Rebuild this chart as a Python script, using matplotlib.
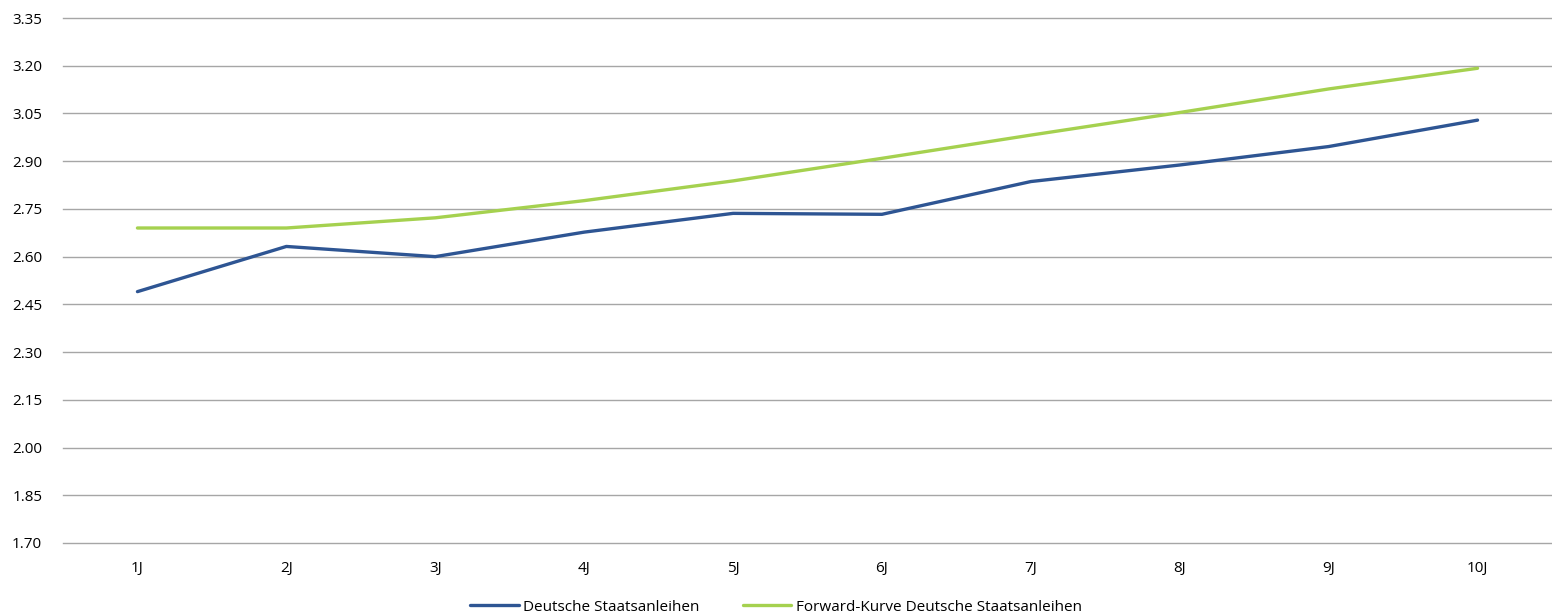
import matplotlib
matplotlib.use("Agg")
import matplotlib.pyplot as plt
import numpy as np

categories = ["1J", "2J", "3J", "4J", "5J", "6J", "7J", "8J", "9J", "10J"]
deutsche = [2.49, 2.632, 2.600, 2.677, 2.736, 2.733, 2.836, 2.888, 2.946, 3.029]
forward = [2.690, 2.690, 2.722, 2.776, 2.838, 2.909, 2.982, 3.053, 3.127, 3.192]
yticks = [1.70, 1.85, 2.00, 2.15, 2.30, 2.45, 2.60, 2.75, 2.90, 3.05, 3.20, 3.35]
series_names = ["Deutsche Staatsanleihen", "Forward-Kurve Deutsche Staatsanleihen"]

plt.rcParams['font.family'] = ['Open Sans', 'DejaVu Sans']

fig = plt.figure(figsize=(15.52, 6.16), dpi=100)
ax = fig.add_axes([63/1552, 1-543/616, 1-63/1552, (543-18)/616])

x = np.arange(len(categories))
ax.plot(x, deutsche, color="#2e5593", lw=2.4, label=series_names[0], solid_capstyle='round')
ax.plot(x, forward, color="#a5d14f", lw=2.4, label=series_names[1], solid_capstyle='round')

ax.set_xlim(-0.5, len(categories) - 0.5)
ax.set_ylim(yticks[0], yticks[-1])
ax.set_yticks(yticks)
ax.set_yticklabels([f"{v:.2f}" for v in yticks])
ax.set_xticks(x)
ax.set_xticklabels(categories)
ax.tick_params(axis='both', length=0, labelsize=11, colors="#000000")
ax.tick_params(axis='y', pad=15)
ax.tick_params(axis='x', pad=13)
ax.yaxis.grid(True, color="#a6a6a6", lw=1)
for gl in ax.get_ygridlines():
    gl.set_clip_on(False)
ax.set_axisbelow(True)
for s in ax.spines.values():
    s.set_visible(False)

leg = fig.legend(loc="lower center", bbox_to_anchor=(0.5, -0.02), ncol=2, frameon=False,
                 fontsize=11, handlelength=3.2, handletextpad=0.3, columnspacing=2.8)

fig.savefig("out.png", dpi=100)
